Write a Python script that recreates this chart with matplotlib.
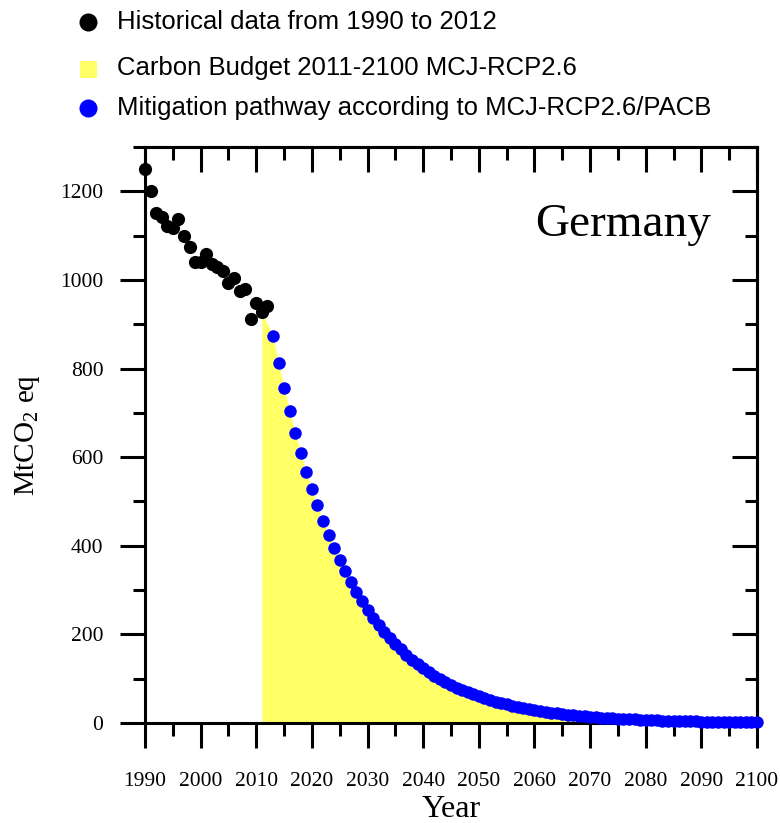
import numpy as np
import matplotlib
matplotlib.use('Agg')
import matplotlib.pyplot as plt
from matplotlib.lines import Line2D
from matplotlib.patches import Rectangle
from matplotlib.ticker import MultipleLocator

# historical emissions 1990-2012 (MtCO2 eq)
hist_years = list(range(1990, 2013))
hist_vals = [1250, 1200, 1152, 1142, 1122, 1118, 1138, 1100, 1075, 1040, 1040,
             1058, 1035, 1030, 1020, 994, 1005, 975, 980, 912, 947, 927, 941]

# mitigation pathway 2013-2100
path_years = list(range(2013, 2101))
path_vals = [874, 813, 756, 705, 655, 610, 567, 528, 491, 457,
             425, 396, 368, 342, 318, 296, 276, 256, 238, 222,
             206, 192, 178, 166, 154, 143, 133, 124, 115, 107,
             100, 93, 86, 80, 75, 69, 65, 60, 56, 52,
             48, 45, 42, 39, 36, 34, 31, 29, 27, 25,
             23, 22, 20, 19, 18, 16, 15, 14, 13, 12,
             11, 10.5, 9.8, 9.1, 8.5, 7.9, 7.3, 6.8, 6.3, 5.9,
             5.5, 5.1, 4.7, 4.4, 4.1, 3.8, 3.5, 3.3, 3.1, 2.9,
             2.7, 2.5, 2.3, 2.1, 2.0, 1.8, 1.7, 1.6]

# carbon budget area 2011-2100
budget_years = [2011, 2012] + path_years
budget_vals = [927, 900] + path_vals

legend_labels = ['Historical data from 1990 to 2012',
                 'Carbon Budget 2011-2100 MCJ-RCP2.6',
                 'Mitigation pathway according to MCJ-RCP2.6/PACB']

serif = 'Liberation Serif'
sans = 'Liberation Sans'
yellow = '#ffff66'
blue = '#0000ff'
W, H = 780, 823

fig = plt.figure(figsize=(W/100, H/100), dpi=100)
ax = fig.add_axes([145/W, 1-723/H, (757-145)/W, (723-147)/H])

ax.fill_between(budget_years, budget_vals, 0, color=yellow, lw=0, zorder=1)
ax.plot(hist_years, hist_vals, 'o', color='black', ms=9.5, mec='none', zorder=3, clip_on=False)
ax.plot(path_years, path_vals, 'o', color=blue, ms=9, mec='none', zorder=3, clip_on=False)

ax.set_xlim(1990, 2100)
ax.set_ylim(0, 1300)
ax.xaxis.set_major_locator(MultipleLocator(10))
ax.xaxis.set_minor_locator(MultipleLocator(5))
ax.set_yticks([0, 200, 400, 600, 800, 1000, 1200])
ax.yaxis.set_minor_locator(MultipleLocator(100))

for s in ax.spines.values():
    s.set_linewidth(2.2)
ax.tick_params(which='major', direction='out', length=18, width=2.2, labelsize=15.5)
ax.tick_params(which='minor', direction='out', length=9, width=2.2)
ax.tick_params(axis='x', pad=17)
ax.tick_params(axis='y', pad=12)
for lab in ax.get_xticklabels() + ax.get_yticklabels():
    lab.set_family(serif)

# top and right ticks point inward
top = ax.secondary_xaxis('top')
top.xaxis.set_major_locator(MultipleLocator(10))
top.xaxis.set_minor_locator(MultipleLocator(5))
top.tick_params(which='major', direction='in', length=18, width=2.2, labeltop=False)
top.tick_params(which='minor', direction='in', length=9, width=2.2)
top.spines['top'].set_linewidth(2.2)
right = ax.secondary_yaxis('right')
right.yaxis.set_major_locator(MultipleLocator(200))
right.yaxis.set_minor_locator(MultipleLocator(100))
right.tick_params(which='major', direction='in', length=18, width=2.2, labelright=False)
right.tick_params(which='minor', direction='in', length=9, width=2.2)
right.spines['right'].set_linewidth(2.2)

ax.set_xlabel('Year', family=serif, fontsize=23, labelpad=3)
ax.set_ylabel(r'MtCO$_\mathregular{2}$ eq', family=serif, fontsize=21, labelpad=13)

ax.text(2091.7, 1125, 'Germany', family=serif, fontsize=34, ha='right', va='center')

# legend drawn by hand in figure pixels
rows_y = [22, 68, 108]
fig.add_artist(Line2D([88/W], [1-rows_y[0]/H], ls='none', marker='o', color='black',
                      ms=13, mec='none', transform=fig.transFigure))
fig.add_artist(Rectangle((80/W, 1-(rows_y[1]+10)/H), 17/W, 17/H, color=yellow,
                         lw=0, transform=fig.transFigure))
fig.add_artist(Line2D([88/W], [1-rows_y[2]/H], ls='none', marker='o', color=blue,
                      ms=13, mec='none', transform=fig.transFigure))
for lab, yy in zip(legend_labels, rows_y):
    fig.text(117/W, 1-yy/H, lab, family=sans, fontsize=18.5, ha='left', va='center')

fig.savefig('out.png', dpi=100)
